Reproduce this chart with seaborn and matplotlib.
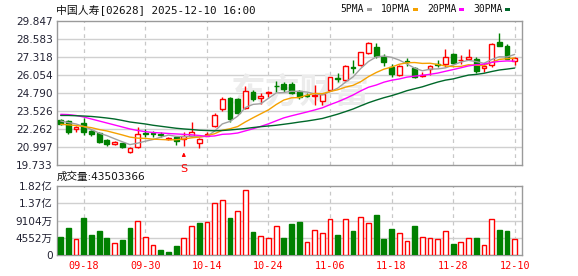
import numpy as np
import pandas as pd
import matplotlib
matplotlib.use("Agg")
import matplotlib.pyplot as plt
from matplotlib.patches import Rectangle
import seaborn as sns

# ---------------- data ----------------
title = "中国人寿[02628] 2025-12-10 16:00"
dates = ["09-15", "09-16", "09-17", "09-18", "09-19", "09-22", "09-23", "09-24", "09-25", "09-26", "09-29", "09-30",
         "10-02", "10-03", "10-06", "10-08", "10-09", "10-10", "10-13", "10-14",
         "10-15", "10-16", "10-17", "10-20", "10-21", "10-22", "10-23", "10-24",
         "10-27", "10-28", "10-30", "10-31", "11-03", "11-04", "11-05", "11-06",
         "11-07", "11-10", "11-11", "11-12", "11-13", "11-14", "11-17", "11-18",
         "11-19", "11-20", "11-21", "11-24", "11-25", "11-26", "11-27", "11-28",
         "12-01", "12-02", "12-03", "12-04", "12-05", "12-08", "12-09", "12-10"]
opens = [22.90, 22.83, 22.25, 22.71, 22.15, 22.01, 21.49, 21.19, 21.26, 20.67,
         21.02, 21.96, 21.96, 21.89, 21.58, 21.68, 21.58, 21.77, 21.28, 21.78,
         22.48, 23.65, 24.43, 24.36, 23.73, 24.88, 24.47, 24.83, 25.32, 25.44,
         25.41, 24.94, 24.66, 24.60, 24.27, 25.01, 25.83, 25.72, 26.65, 26.77,
         27.60, 28.06, 27.36, 26.65, 26.07, 27.02, 26.58, 26.02, 26.47, 26.86,
         26.82, 27.55, 27.09, 27.17, 27.17, 26.54, 26.77, 28.41, 28.11, 27.08]
highs = [22.94, 22.87, 22.47, 23.02, 22.22, 22.06, 21.53, 21.40, 21.30, 21.02,
         22.43, 22.29, 22.13, 22.03, 21.70, 21.77, 22.08, 22.78, 21.60, 22.08,
         23.37, 24.54, 24.54, 24.45, 25.29, 24.99, 24.82, 24.96, 25.64, 25.60,
         25.60, 25.02, 24.80, 25.36, 24.80, 25.95, 26.20, 26.75, 27.12, 27.72,
         28.42, 28.30, 27.55, 26.82, 26.75, 27.24, 26.65, 26.30, 26.77, 27.12,
         27.90, 27.60, 27.48, 27.90, 27.36, 26.89, 28.34, 29.00, 28.25, 27.30]
lows = [22.55, 21.89, 22.08, 21.84, 21.78, 21.30, 21.09, 21.14, 20.95, 20.60,
        20.95, 21.70, 21.68, 21.68, 21.52, 21.14, 21.07, 21.70, 20.91, 21.75,
        22.40, 23.55, 22.78, 23.30, 23.65, 24.25, 24.03, 24.54, 24.89, 24.89,
        24.70, 24.40, 24.50, 23.96, 23.96, 24.95, 25.60, 25.65, 26.19, 26.70,
        27.55, 27.25, 26.70, 25.95, 26.00, 26.70, 25.84, 25.95, 26.07, 26.61,
        26.65, 26.90, 26.82, 27.12, 26.19, 26.30, 26.65, 28.13, 27.20, 26.77]
closes = [22.62, 22.08, 22.43, 22.08, 21.92, 21.37, 21.21, 21.33, 21.02, 20.91,
          21.89, 21.89, 21.92, 21.84, 21.66, 21.44, 21.80, 22.08, 21.55, 21.89,
          23.25, 24.35, 22.97, 23.40, 24.91, 24.37, 24.58, 24.86, 25.29, 25.08,
          24.80, 24.54, 24.62, 24.68, 24.70, 25.91, 25.79, 26.70, 26.58, 27.67,
          28.34, 27.41, 27.00, 26.14, 26.70, 26.96, 25.95, 26.08, 26.70, 26.80,
          27.31, 26.94, 27.14, 27.31, 26.35, 26.72, 28.25, 28.13, 27.22, 27.26]
prev_close = 22.95
volumes_wan = [4820, 7230, 4200, 9640, 5360, 6430, 4550, 3120, 4020, 7230,
               9020, 4820, 2590, 1340, 800, 2410, 4460, 7680, 8570, 8750,
               13840, 14640, 9640, 11700, 17050, 6160, 5000, 4460, 7680, 4550,
               8300, 8840, 3480, 6610, 5800, 9550, 5360, 9550, 6430, 10090,
               8570, 10450, 4290, 6960, 5890, 3750, 7770, 4730, 4460, 4200,
               6340, 2950, 3480, 4460, 4550, 2590, 9550, 6700, 6430, 4350.3366]
last_volume = 43503366

ma5_head = [22.83, 22.72, 22.62, 22.44]
ma10_head = [22.60, 22.56, 22.51, 22.44, 22.36, 22.23, 22.13, 21.99, 21.85]
ma20_head = [23.30, 23.28, 23.22, 23.11, 22.97, 22.83, 22.69, 22.55, 22.41, 22.27,
             22.16, 22.08, 22.02, 21.99, 21.95, 21.92, 21.89, 21.86, 21.81]
ma30_head = [23.22, 23.22, 23.20, 23.18, 23.15, 23.10, 23.04, 22.97, 22.87, 22.76,
             22.69, 22.62, 22.53, 22.46, 22.39, 22.32, 22.27, 22.23, 22.18, 22.16,
             22.14, 22.16, 22.20, 22.25, 22.30, 22.37, 22.43, 22.48, 22.53]

price_ticks = [19.733, 20.997, 22.262, 23.526, 24.790, 26.054, 27.318, 28.583, 29.847]
vol_ticks = [0, 45520000, 91040000, 136560000, 182080000]
vol_tick_labels = ["0", "4552万", "9104万", "1.37亿", "1.82亿"]
date_ticks = ["09-18", "09-30", "10-14", "10-24", "11-06", "11-18", "11-28", "12-10"]
signal_date = "10-09"
signal_text = "S"
ma_names = ["5PMA", "10PMA", "20PMA", "30PMA"]
ma_windows = [5, 10, 20, 30]
ma_colors = ["#a0a0a0", "#f5a100", "#ff00ff", "#00682a"]

# ---------------- derived ----------------
df = pd.DataFrame({"date": dates, "open": opens, "high": highs, "low": lows,
                   "close": closes, "vol": np.array(volumes_wan) * 1e4})
df["idx"] = np.arange(len(df))
heads = [ma5_head, ma10_head, ma20_head, ma30_head]
for name, n, head in zip(ma_names, ma_windows, heads):
    s = df["close"].rolling(n).mean()
    s.iloc[:n - 1] = head
    df[name] = s

RED = "#ff0000"
GREEN = "#008000"
up = df["close"] >= df["open"]
cand_col = np.where(up, RED, GREEN)
pc = pd.concat([pd.Series([prev_close]), df["close"].iloc[:-1]], ignore_index=True)
vol_up = df["close"].values >= pc.values
vol_col = np.where(vol_up, RED, GREEN)

# ---------------- figure ----------------
sns.set_theme(style="white")
plt.rcParams["font.family"] = ["DejaVu Sans", "Noto Sans CJK SC"]

W, H = 578, 276
fig = plt.figure(figsize=(W / 100, H / 100), dpi=100)
L, R = 57, 522
ax = fig.add_axes([L / W, 1 - 165 / H, (R - L) / W, (165 - 21.3) / H])
axv = fig.add_axes([L / W, 1 - 255 / H, (R - L) / W, (255 - 186) / H])

tick_idx = [dates.index(d) for d in date_ticks]
xlim = (-0.48, 59.95)

for a in (ax, axv):
    a.set_xlim(*xlim)
    for t in tick_idx:
        a.axvline(t, color="#c8c8c8", ls=(0, (3, 3)), lw=0.9, zorder=0)
    for sp in a.spines.values():
        sp.set_color("#9a9a9a")
        sp.set_linewidth(1.0)
    a.tick_params(length=0, labelsize=7.6, colors="#222233", pad=3)

# price panel
ax.set_ylim(price_ticks[0], price_ticks[-1])
ax.set_yticks(price_ticks)
ax.set_yticklabels([f"{v:.3f}" for v in price_ticks])
for v in price_ticks[1:-1]:
    ax.axhline(v, color="#d0d0d0", lw=1.0, zorder=0)
ax.set_xticks([])

# watermark
ax.text(0.375, 0.51, "东方财富", transform=ax.transAxes, fontsize=25, color="#ececec",
        fontweight="bold", ha="left", va="center", family=["Noto Sans CJK SC"], zorder=0.5)

ax.vlines(df["idx"], df["low"], df["high"], colors=cand_col, lw=1.0, zorder=2)
body_h = np.maximum((df["close"] - df["open"]).abs().values, 0.02)
body_b = np.minimum(df["open"], df["close"]).values
ax.bar(df["idx"], body_h, bottom=body_b, width=0.62,
       color=np.where(up, "white", GREEN), edgecolor=cand_col, linewidth=1.0, zorder=3)

for name, col in zip(ma_names, ma_colors):
    sns.lineplot(data=df, x="idx", y=name, color=col, lw=1.0, ax=ax, legend=False, zorder=4)
ax.set_xlabel("")
ax.set_ylabel("")
ax.set_xlim(*xlim)

si = dates.index(signal_date)
ax.annotate(signal_text, xy=(si, lows[si] - 0.45), xytext=(0, -12), textcoords="offset points",
            ha="center", va="center", color=RED, fontsize=8,
            arrowprops=dict(arrowstyle="-|>", color=RED, lw=0.8, mutation_scale=5,
                            shrinkA=4, shrinkB=0), zorder=5)

# volume panel
axv.set_ylim(0, vol_ticks[-1])
axv.set_yticks(vol_ticks)
axv.set_yticklabels(vol_tick_labels)
for v in vol_ticks[1:-1]:
    axv.axhline(v, color="#d0d0d0", lw=1.0, zorder=0)
axv.bar(df["idx"], df["vol"], width=0.62, color=np.where(vol_up, "white", GREEN),
        edgecolor=vol_col, linewidth=1.0, zorder=3)
axv.set_xticks(tick_idx)
axv.set_xticklabels(date_ticks, family=["DejaVu Sans Mono"], fontsize=7.3, color=RED)
axv.tick_params(axis="x", pad=4.5, colors=RED)
axv.set_xlim(*xlim)

# header texts
fig.text(56 / W, 1 - 9.5 / H, title, fontsize=7.8, va="center", ha="left", color="#111111",
         family=["DejaVu Sans Mono", "Noto Sans CJK SC"])
fig.text(57 / W, 1 - 177 / H, f"成交量:{last_volume}", fontsize=7.6, va="center", ha="left",
         color="#111111", family=["DejaVu Sans", "Noto Sans CJK SC"])

leg_x = [340, 381, 427, 473]
for name, col, x0 in zip(ma_names, ma_colors, leg_x):
    t = fig.text(x0 / W, 1 - 9.5 / H, name, fontsize=7.0, va="center", ha="left",
                 color="#111111", family=["DejaVu Sans Mono"])
fig.canvas.draw()
renderer = fig.canvas.get_renderer()
for txt, col in zip([t for t in fig.texts if t.get_text() in ma_names], ma_colors):
    bb = txt.get_window_extent(renderer)
    x1 = bb.x1 + 3
    fig.patches.append(Rectangle((x1 / W, (H - 11) / H), 5 / W, 3 / H, transform=fig.transFigure,
                                 facecolor=col, edgecolor="none"))

fig.savefig("out.png", dpi=100)
